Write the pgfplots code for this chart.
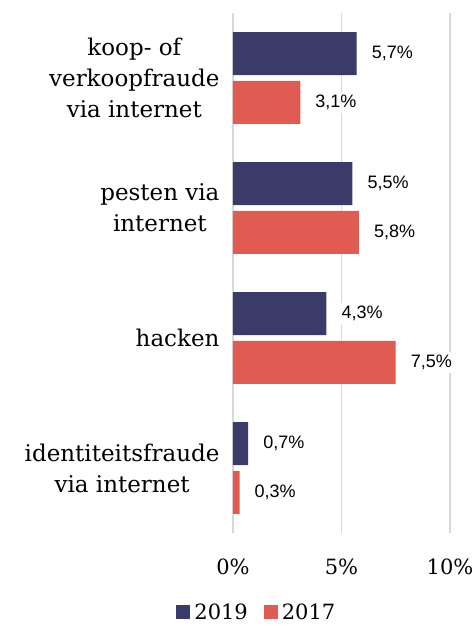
\documentclass[border=0pt]{standalone}
\usepackage{pgfplots}
\pgfplotsset{compat=1.18}
\usepackage{fontspec}
\setmainfont{DejaVu Serif}
\newfontfamily\valfont{Liberation Sans}
\definecolor{navy}{HTML}{3A3B68}
\definecolor{coral}{HTML}{E05C52}
\definecolor{gridc}{HTML}{D9D9D9}
\begin{document}
\begin{tikzpicture}
\useasboundingbox (-233pt,-100pt) rectangle (242pt,533pt);
\begin{axis}[
  /pgf/number format/assume math mode=true,
  at={(0pt,0pt)}, anchor=south west,
  scale only axis, width=217pt, height=520pt,
  xmin=0, xmax=10, ymin=-0.5, ymax=3.5,
  y dir=reverse,
  xbar, bar width=43pt, bar shift=0pt,
  axis line style={draw=none},
  major tick length=0pt,
  xtick={0,5,10},
  xticklabel={\pgfmathprintnumber{\tick}\%},
  xticklabel style={font=\fontsize{21}{24}\selectfont, yshift=-22pt},
  ytick={0,1,2,3},
  yticklabels={{koop- of\\verkoopfraude\\via internet},{pesten via\\internet},{hacken},{identiteitsfraude\\via internet}},
  yticklabel style={align=center, font=\fontsize{23}{31}\selectfont, xshift=-10pt},
  xmajorgrids, grid style={gridc, line width=1.5pt},
  clip=false,
  nodes near coords={\pgfmathprintnumber[use comma,fixed,fixed zerofill,precision=1]{\pgfplotspointmeta}\%},
  nodes near coords style={font=\valfont\fontsize{18}{20}\selectfont, anchor=west, xshift=12pt, fill=white, inner sep=3pt},
  legend style={at={(0.11,-0.152)}, anchor=center, draw=none, legend columns=2,
    font=\fontsize{21}{24}\selectfont, /tikz/every even column/.append style={column sep=14pt},
    /tikz/every odd column/.append style={column sep=2pt}},
  legend image code/.code={\fill[#1] (0pt,-7pt) rectangle (14pt,7pt);},
]
\addplot[fill=navy, draw=none] coordinates {(5.7,-0.188) (5.5,0.812) (4.3,1.812) (0.7,2.812)};
\addplot[fill=coral, draw=none] coordinates {(3.1,0.188) (5.8,1.188) (7.5,2.188) (0.3,3.188)};
\legend{2019,2017}
\end{axis}
\end{tikzpicture}
\end{document}
